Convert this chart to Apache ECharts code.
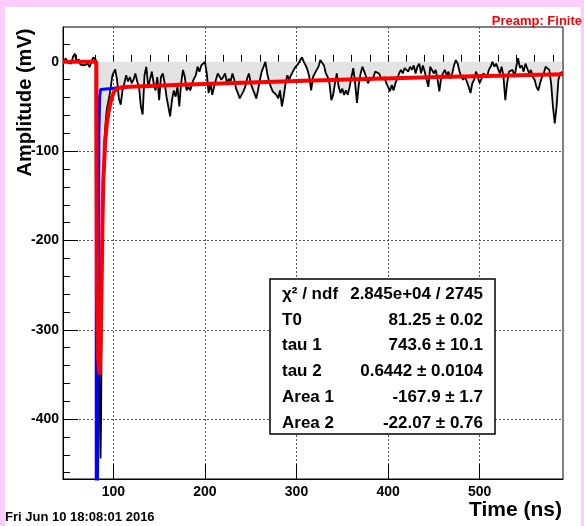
<!DOCTYPE html>
<html>
<head>
<meta charset="utf-8">
<script src="https://cdn.jsdelivr.net/npm/echarts@6/dist/echarts.min.js"></script>
<style>
html, body { margin: 0; padding: 0; background: #ffccff; }
#paper { position: absolute; left: 5px; top: 7px; width: 576px; height: 519px; background: #fff; }
#main { position: absolute; left: 0; top: 0; width: 584px; height: 526px; }
</style>
</head>
<body>
<div id="paper"></div>
<div id="main"></div>
<script>
// baseline before the pulse, one sample every 2 ns
const baseStart = 46, baseStep = 2;
const baseMv = [1, 4, -1, 1, -2, 6, 9, 0, 3, -3, -1, -4, -5, -2, -6, 0, 5, 6];

// the pulse itself [ns, mV]
const pulseMv = [[81, 2], [82, -40], [83, -150], [84, -280], [85, -380], [86, -444], [86.6, -400],
    [87.2, -300], [88, -200], [89, -130], [90, -95], [91, -75], [92, -62], [93, -52], [94, -47],
    [95, -42], [96, -36], [97, -30], [98, -22], [99, -15]];

// tail after the pulse, one sample every 2 ns
const tailStart = 100, tailStep = 2;
const tailMv = [
    -13, -8.5, -20, -41, -48, -32, -24, -15, -22, -17,   // 100
    -24, -20, -13, -22, -28, -50, -59, -15, -5.5, -28,   // 120
    -20, -11, -24, -32, -17, -43, -17, -13, -24, -39,    // 140
    -50, -61, -43, -32, -39, -28, -50, -24, -9, -17,     // 160
    -32, -28, -32, -24, -19, -15, -5.5, -11, -4, -3,     // 180
    0, -13, -35, -24, -37, -28, -20, -13, -15, -20,      // 200
    -17, -13, -24, -19, -22, -13, -20, -30, -35, -41,    // 220
    -43, -33, -28, -19, -13, -24, -30, -35, -41, -32,    // 240
    -20, -11, -5.5, 0, -13, -22, -28, -33, -32, -37,     // 260
    -41, -32, -50, -39, -24, -15, -20, -15, -11, -7,     // 280
    -9, -2, 2, 5, 0, -4, -9, -17, -32, -17,              // 300
    -15, -9, -5.5, 2, 4, -4, -13, -17, -24, -43,         // 320
    -37, -24, -13, -28, -35, -30, -37, -32, -37, -28,    // 340
    -17, -7, -24, -46, -26, -13, -5.5, -11, -17, -24,    // 360
    -20, -22, -17, -11, -9, -13, -17, -20, -17, -24,     // 380
    -28, -33, -26, -32, -24, -19, -13, -9, -13, -7,      // 400
    -5.5, -11, -5.5, -9, -4, -13, -5.5, -2, -13, -4,     // 420
    -11, -20, -28, -5.5, -4, -13, -9, -20, -33, -17,     // 440
    -13, -9, -15, -11, -19, -13, -4, 2, -2, -11,         // 460
    -17, -20, -17, -22, -28, -35, -24, -20, -11, -17,    // 480
    -24, -19, -13, -11, -17, -9, -5.5, 0, -5.5, -2,      // 500
    -4, -13, -5.5, -17, -43, -24, -11, -13, -9, -17,     // 520
    -5.5, 4, -7, -4, -11, -2, -4, -13, -9, -17,          // 540
    -20, -28, -32, -24, -17, -13, -5.5, -4, -9, -24,     // 560
    -50, -69, -50, -20, -13, -11                         // 580
];

// fit curves [ns, mV]
const fitTotal = [[45, 0], [81.3, 0], [82.2, -250], [83.2, -330], [85, -350], [86.3, -305], [87.2, -250],
    [88, -185], [89, -135], [91, -90], [93, -68], [95, -55], [97, -45], [99, -38], [101, -33],
    [104, -30], [110, -28.5], [118, -28], [182, -25.5], [250, -23], [318, -21], [386, -19],
    [454, -17], [520, -15.5], [591, -14]];
const fitFast = [[81.25, -20], [81.4, -800], [82.6, -800], [83.4, -300], [84.2, -80], [85, -40],
    [86, -31], [88, -30], [95, -30], [105, -29], [115, -28]];

const xMajor = [100, 200, 300, 400, 500];
const yMajor = [0, -100, -200, -300, -400];
const xMinor = [];
for (let v = 60; v <= 580; v += 20) xMinor.push(v);
const yMinor = [];
for (let v = -460; v <= 20; v += 20) yMinor.push(v);

const statNames = ['χ² / ndf', 'T0', 'tau 1', 'tau 2', 'Area 1', 'Area 2'];
const statValues = ['2.845e+04 / 2745', '81.25 ± 0.02', '743.6 ± 10.1', '0.6442 ± 0.0104', '-167.9 ± 1.7', '-22.07 ± 0.76'];

const samples = [];
baseMv.forEach((v, i) => samples.push([baseStart + i * baseStep, v]));
pulseMv.forEach(p => samples.push(p));
tailMv.forEach((v, i) => samples.push([tailStart + i * tailStep, v]));

const FONT = '"Liberation Sans", Arial, Helvetica, sans-serif';
const chart = echarts.init(document.getElementById('main'));

const graphics = [
    { type: 'rect', z: 100, shape: { x: 270, y: 279, width: 225, height: 155 },
      style: { fill: '#fff', stroke: '#000', lineWidth: 1.5 } },
    { type: 'text', x: 582, y: 21.5, style: { text: 'Preamp: Finite', font: 'bold 13px ' + FONT,
      fill: '#ff0000', align: 'right', verticalAlign: 'middle' } },
    { type: 'text', x: 25, y: 102.5, rotation: Math.PI / 2, style: { text: 'Amplitude (mV)',
      font: 'bold 20px ' + FONT, fill: '#000', align: 'center', verticalAlign: 'middle' } },
    { type: 'text', x: 562, y: 510, style: { text: 'Time (ns)', font: 'bold 21px ' + FONT,
      fill: '#000', align: 'right', verticalAlign: 'middle' } },
    { type: 'text', x: 5, y: 517.5, style: { text: 'Fri Jun 10 18:08:01 2016', font: 'bold 13px ' + FONT,
      fill: '#000', align: 'left', verticalAlign: 'middle' } }
];
statNames.forEach((name, i) => {
    const y = 294 + i * 25.9;
    graphics.push({ type: 'text', z: 101, x: 282, y: y, style: { text: name, font: 'bold 17px ' + FONT,
        fill: '#000', align: 'left', verticalAlign: 'middle' } });
    graphics.push({ type: 'text', z: 101, x: 483, y: y, style: { text: statValues[i], font: 'bold 17px ' + FONT,
        fill: '#000', align: 'right', verticalAlign: 'middle' } });
});

const gridLine = { show: true, lineStyle: { color: '#555', type: [2, 2], width: 1 } };

const option = {
    animation: false,
    backgroundColor: 'transparent',
    textStyle: { fontFamily: FONT },
    grid: { left: 63, right: 21, top: 27, bottom: 47, show: true, borderColor: '#000', borderWidth: 1,
        backgroundColor: 'transparent' },
    xAxis: [
        {
            type: 'value', min: 45, max: 591, position: 'bottom',
            axisLine: { show: true, onZero: false, lineStyle: { color: '#000', width: 1 } },
            axisTick: { show: true, inside: true, length: 15, customValues: xMajor, lineStyle: { color: '#000' } },
            axisLabel: { customValues: xMajor, margin: 6, fontSize: 14, fontWeight: 'bold', color: '#000' },
            splitLine: gridLine
        },
        {
            type: 'value', min: 45, max: 591, position: 'bottom',
            axisLine: { show: false },
            axisTick: { show: true, inside: true, length: 7, customValues: xMinor, lineStyle: { color: '#000' } },
            axisLabel: { show: false },
            splitLine: { show: false }
        }
    ],
    yAxis: [
        {
            type: 'value', min: -467, max: 39, position: 'left',
            axisLine: { show: true, onZero: false, lineStyle: { color: '#000', width: 1 } },
            axisTick: { show: true, inside: true, length: 15, customValues: yMajor, lineStyle: { color: '#000' } },
            axisLabel: { customValues: yMajor, margin: 4, fontSize: 14, fontWeight: 'bold', color: '#000' },
            splitLine: gridLine
        },
        {
            type: 'value', min: -467, max: 39, position: 'left',
            axisLine: { show: false },
            axisTick: { show: true, inside: true, length: 7, customValues: yMinor, lineStyle: { color: '#000' } },
            axisLabel: { show: false },
            splitLine: { show: false }
        }
    ],
    graphic: graphics,
    series: [
        {
            type: 'line', xAxisIndex: 0, yAxisIndex: 0, data: samples, showSymbol: false,
            lineStyle: { color: '#000', width: 1.8 },
            areaStyle: { color: '#e3e3e3', opacity: 1, origin: 'auto' }
        },
        {
            type: 'line', xAxisIndex: 0, yAxisIndex: 0, data: fitFast, showSymbol: false,
            lineStyle: { color: '#0000ff', width: 3 }
        },
        {
            type: 'line', xAxisIndex: 0, yAxisIndex: 0, data: fitTotal, showSymbol: false,
            lineStyle: { color: '#ff0000', width: 4 }
        }
    ]
};
chart.setOption(option);
</script>
</body>
</html>
